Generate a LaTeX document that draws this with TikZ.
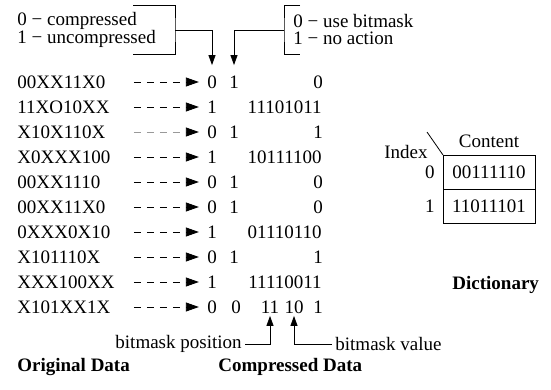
\documentclass[tikz,border=0pt]{standalone}
\usepackage{fontspec}
\setmainfont{Liberation Serif}
\usetikzlibrary{arrows.meta,positioning}

\tikzset{
  txt/.style={inner sep=0pt, text height=13pt, text depth=0pt},
  orig/.style={txt, anchor=west, text width=116pt, align=left},
  code/.style={txt, anchor=east},
  flow/.style={dash pattern=on 7pt off 6pt, -{Triangle[length=13pt,width=9pt]}, shorten >=8pt},
  faintflow/.style={flow, draw=black!40, -{Triangle[length=13pt,width=9pt,black]}},
  tip/.style={-{Triangle[length=10pt,width=7pt]}},
  title/.style={font=\fontsize{19}{17}\selectfont\bfseries, anchor=west, inner sep=0pt},
  cell/.style={draw, minimum width=92pt, minimum height=34pt, inner sep=0pt, outer sep=0pt}
}

\begin{document}
\begin{tikzpicture}[x=1pt, y=-1pt, line width=0.8pt, font=\fontsize{19}{17}\selectfont]
    \useasboundingbox (0,0) rectangle (551,390);

    % Legends on top
    \node[anchor=west, align=left, inner sep=0pt] (lgA) at (17,30) {0 − compressed\\1 − uncompressed};
    \node[anchor=west, align=left, inner sep=0pt] (lgB) at (293,30) {0 − use bitmask\\1 − no action};
    \coordinate (brA) at (175,30);
    \coordinate (brB) at (284,30);
    \draw (133,5) -| (brA) |- (133,54);
    \draw (300,5) -| (brB) |- (300,54);

    % Original data words
    \node[orig] (o1)  at (17,82)  {00XX11X0};
    \node[orig] (o2)  at (17,107) {11XO10XX};
    \node[orig] (o3)  at (17,132) {X10X110X};
    \node[orig] (o4)  at (17,157) {X0XXX100};
    \node[orig] (o5)  at (17,182) {00XX1110};
    \node[orig] (o6)  at (17,207) {00XX11X0};
    \node[orig] (o7)  at (17,232) {0XXX0X10};
    \node[orig] (o8)  at (17,257) {X101110X};
    \node[orig] (o9)  at (17,282) {XXX100XX};
    \node[orig] (o10) at (17,307) {X101XX1X};

    % Compression flags
    \node[txt] (f1)  at (212,82)  {0};
    \node[txt] (f2)  at (212,107) {1};
    \node[txt] (f3)  at (212,132) {0};
    \node[txt] (f4)  at (212,157) {1};
    \node[txt] (f5)  at (212,182) {0};
    \node[txt] (f6)  at (212,207) {0};
    \node[txt] (f7)  at (212,232) {1};
    \node[txt] (f8)  at (212,257) {0};
    \node[txt] (f9)  at (212,282) {1};
    \node[txt] (f10) at (212,307) {0};

    % Bitmask flags and uncompressed words
    \node[txt]  (b1)  at (234,82)  {1};
    \node[code] (w2)  at (322,107) {11101011};
    \node[txt]  (b3)  at (234,132) {1};
    \node[code] (w4)  at (322,157) {10111100};
    \node[txt]  (b5)  at (234,182) {1};
    \node[txt]  (b6)  at (234,207) {1};
    \node[code] (w7)  at (322,232) {01110110};
    \node[txt]  (b8)  at (234,257) {1};
    \node[code] (w9)  at (322,282) {11110011};
    \node[txt]  (b10) at (236,307) {0};

    % Dictionary indices and bitmask fields
    \node[txt] (e1)  at (318,82)  {0};
    \node[txt] (e3)  at (318,132) {1};
    \node[txt] (e5)  at (318,182) {0};
    \node[txt] (e6)  at (318,207) {0};
    \node[txt] (e8)  at (318,257) {1};
    \node[txt] (m1)  at (270,307) {11};
    \node[txt] (m2)  at (294,307) {10};
    \node[txt] (e10) at (318,307) {1};

    % Dashed arrows from data to code
    \draw[flow]      (o1.east)  -- (o1.east -| f1.west);
    \draw[flow]      (o2.east)  -- (o2.east -| f2.west);
    \draw[faintflow] (o3.east)  -- (o3.east -| f3.west);
    \draw[flow]      (o4.east)  -- (o4.east -| f4.west);
    \draw[flow]      (o5.east)  -- (o5.east -| f5.west);
    \draw[flow]      (o6.east)  -- (o6.east -| f6.west);
    \draw[flow]      (o7.east)  -- (o7.east -| f7.west);
    \draw[flow]      (o8.east)  -- (o8.east -| f8.west);
    \draw[flow]      (o9.east)  -- (o9.east -| f9.west);
    \draw[flow]      (o10.east) -- (o10.east -| f10.west);

    % Legend arrows
    \draw[tip] (brA) -| ([yshift=10pt]f1.north);
    \draw[tip] (brB) -| ([yshift=10pt]b1.north);

    % Bitmask labels
    \node[anchor=east, inner sep=3pt] (bpos) at (245,344) {bitmask position};
    \node[anchor=west, inner sep=3pt] (bval) at (332,344) {bitmask value};
    \draw[tip] (bpos.east) -| ([yshift=-2pt]m1.south);
    \draw[tip] (bval.west) -| ([yshift=-2pt]m2.south);

    % The dictionary
    \node[cell] (c0) at (489,172) {00111110};
    \node[cell, below=0pt of c0] (c1) {11011101};
    \node[txt, above=7pt of c0] (cont) {Content};
    \node[txt, left=8pt of c0] (i0) {0};
    \node[txt, left=8pt of c1] (i1) {1};
    \node[txt, anchor=east] (idx) at (428,152) {Index};
    \coordinate (dg) at (427,132);
    \draw (dg) -- (c0.north west);

    % Titles
    \node[title] (odata) at (17,367)  {Original Data};
    \node[title] (cdata) at (218,367) {Compressed Data};
    \node[title] (dict)  at (452,285) {Dictionary};

\end{tikzpicture}
\end{document}
